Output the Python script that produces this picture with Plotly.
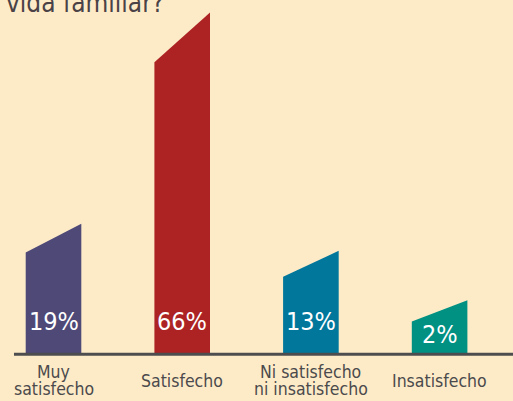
import plotly.graph_objects as go

categories = ["Muy satisfecho", "Satisfecho", "Ni satisfecho ni insatisfecho", "Insatisfecho"]
label_lines = [["Muy", "satisfecho"], ["Satisfecho"], ["Ni satisfecho", "ni insatisfecho"], ["Insatisfecho"]]
values = [19, 66, 13, 2]
value_labels = ["19%", "66%", "13%", "2%"]
colors = ["#4e4977", "#ad2324", "#01779c", "#009183"]
title_text = "vida familiar?"

BG = "#fdebc8"
FONT = "DejaVu Sans Condensed, Liberation Sans Narrow, Roboto, sans-serif"
PX = 4.05  # pixels per unit (for layout of text only)
BAR_W = 0.432
STUB = 5.8  # minimum visible stub height (style)

fig = go.Figure()
for i, (v, c) in enumerate(zip(values, colors)):
    h_left = STUB + v
    h_right = h_left + 5.0 + 0.11 * v
    xs = [i - BAR_W / 2, i - BAR_W / 2, i + BAR_W / 2, i + BAR_W / 2, i - BAR_W / 2]
    ys = [0, h_left, h_right, 0, 0]
    fig.add_trace(go.Scatter(x=xs, y=ys, fill="toself", fillcolor=c, mode="lines",
                             line=dict(width=0, color=c), hoverinfo="skip", showlegend=False))
    ly = min(7.9, h_left * 0.6)
    fig.add_annotation(x=i, y=ly, xref="x", yref="y", text=value_labels[i], showarrow=False,
                       yanchor="middle", xanchor="center",
                       font=dict(family=FONT, size=25, color="white"))

def py(px):
    return (353 - px) / PX

for i, lines in enumerate(label_lines):
    if len(lines) == 1:
        centers = [380.5]
    else:
        centers = [371.5, 389.0]
    for t, cy in zip(lines, centers):
        fig.add_annotation(x=i, y=py(cy), xref="x", yref="y", text=t, showarrow=False,
                           yanchor="middle", xanchor="center",
                           font=dict(family=FONT, size=17.5, color="#4b4a4c"))

fig.add_annotation(x=166 / 513, y=1 - 20.5 / 401, xref="paper", yref="paper", text=title_text,
                   showarrow=False, xanchor="right", yanchor="bottom",
                   font=dict(family=FONT, size=26, color="#4a4246"))

fig.add_shape(type="line", xref="x", yref="y", x0=-0.307, x1=3.7, y0=-0.3, y1=-0.3,
              line=dict(color="#4d4c4e", width=3), layer="above")

fig.update_layout(
    width=513, height=401, margin=dict(l=0, r=0, t=0, b=0),
    paper_bgcolor=BG, plot_bgcolor=BG,
    xaxis=dict(range=[-53.5 / 128.7, (513 - 53.5) / 128.7], visible=False, fixedrange=True),
    yaxis=dict(range=[py(401), py(0)], visible=False, fixedrange=True),
    showlegend=False,
)
fig.write_html("out.html", config={"displayModeBar": False},
               post_script="document.body.style.margin='0';document.body.style.overflow='hidden';document.documentElement.style.background='" + BG + "';")
